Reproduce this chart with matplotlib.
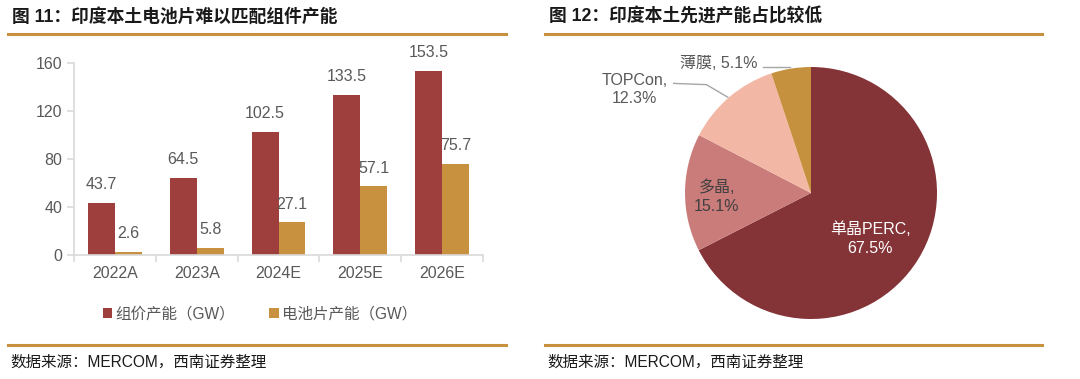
import matplotlib
matplotlib.use('Agg')
import matplotlib.pyplot as plt
from matplotlib.lines import Line2D

FONTS = ['Liberation Sans', 'Noto Sans CJK SC', 'DejaVu Sans']
plt.rcParams['font.family'] = FONTS

# left chart data
years = ['2022A', '2023A', '2024E', '2025E', '2026E']
module_cap = [43.7, 64.5, 102.5, 133.5, 153.5]
cell_cap = [2.6, 5.8, 27.1, 57.1, 75.7]
yticks = [0, 40, 80, 120, 160]

# right chart data
pie_labels = ['单晶PERC', '多晶', 'TOPCon', '薄膜']
pie_shares = [67.5, 15.1, 12.3, 5.1]

RED, GOLD = '#9E3F3E', '#C8913F'
PIE_COLORS = ['#843337', '#C97C7A', '#F3B8A5', '#C6913F']
GREY_TXT = '#595959'
W, H = 1080, 379

fig = plt.figure(figsize=(10.8, 3.79), dpi=100)


def fx(px):
    return px / W


def fy(py):
    return 1 - py / H


# panel headers, rules, sources
for x0, x1, title in [(8, 506, '图 11：印度本土电池片难以匹配组件产能'),
                      (545, 1042, '图 12：印度本土先进产能占比较低')]:
    fig.text(fx(x0 + 4), fy(17), title, fontsize=12.8, fontweight='bold',
             color='#1a1a1a', va='center', ha='left')
    for yy in (34, 345):
        fig.add_artist(Line2D([fx(x0), fx(x1)], [fy(yy), fy(yy)], color=GOLD, lw=2.2))
    fig.text(fx(x0 + 2), fy(362), '数据来源：MERCOM，西南证券整理',
             fontsize=11.2, color='#1a1a1a', va='center', ha='left')

# bar chart
ax = fig.add_axes([fx(74), fy(255), fx(483 - 74), (255 - 63) / H])
xs = range(len(years))
bw = 0.33
b1 = ax.bar([x - bw / 2 for x in xs], module_cap, bw, color=RED, label='组价产能（GW）')
b2 = ax.bar([x + bw / 2 for x in xs], cell_cap, bw, color=GOLD, label='电池片产能（GW）')
for bars, vals in [(b1, module_cap), (b2, cell_cap)]:
    for r, v in zip(bars, vals):
        ax.text(r.get_x() + r.get_width() / 2, v + 9, f'{v:.1f}', ha='center', va='bottom',
                fontsize=11.5, color=GREY_TXT)
ax.set_xlim(-0.5, 4.5)
ax.set_ylim(0, 160)
ax.set_yticks(yticks)
ax.set_xticks(list(xs))
ax.set_xticklabels(years)
for s in ['top', 'right']:
    ax.spines[s].set_visible(False)
for s in ['left', 'bottom']:
    ax.spines[s].set_color('#D9D9D9')
    ax.spines[s].set_linewidth(1.2)
ax.tick_params(axis='both', colors='#D9D9D9', labelcolor=GREY_TXT, labelsize=11.5,
               length=5, width=1.2)
ax.tick_params(axis='x', pad=8)
ax.set_xticks([x + 0.5 for x in range(-1, len(years))], minor=True)
ax.tick_params(axis='x', which='minor', length=5, colors='#D9D9D9', width=1.2)
ax.tick_params(axis='x', which='major', length=0)
leg = ax.legend(loc='center', bbox_to_anchor=(0.455, -0.305), ncol=2, frameon=False,
                handlelength=0.6, handleheight=0.6, handletextpad=0.2, columnspacing=2.2,
                prop={'size': 11.2})
for t in leg.get_texts():
    t.set_color(GREY_TXT)

# pie chart
r_px = 126
cx, cy = 811, 193
pax = fig.add_axes([fx(cx - r_px), fy(cy + r_px), fx(2 * r_px), 2 * r_px / H])
pax.pie(pie_shares, colors=PIE_COLORS, startangle=90, counterclock=False,
        wedgeprops={'linewidth': 0})
pax.set_xlim(-1, 1)
pax.set_ylim(-1, 1)
pax.set_aspect('equal')
pax.axis('off')

pax.text(0.47, -0.36, f'{pie_labels[0]},\n{pie_shares[0]}%', ha='center', va='center',
         color='white', fontsize=11.5, linespacing=1.35)
pax.text(-0.75, -0.03, f'{pie_labels[1]},\n{pie_shares[1]}%', ha='center', va='center',
         color='#404040', fontsize=11.5, linespacing=1.35)
pax.text(-1.40, 0.82, f'{pie_labels[2]},\n{pie_shares[2]}%', ha='center', va='center',
         color=GREY_TXT, fontsize=11.5, linespacing=1.2)
pax.text(-0.73, 1.03, f'{pie_labels[3]}, {pie_shares[3]}%', ha='center', va='center',
         color=GREY_TXT, fontsize=11.5)
pax.plot([-1.09, -0.83, -0.66], [0.87, 0.86, 0.76], color='#A6A6A6', lw=1, clip_on=False)
pax.plot([-0.38, -0.17], [1.0, 1.0], color='#A6A6A6', lw=1, clip_on=False)

fig.savefig('out.png', dpi=100)
